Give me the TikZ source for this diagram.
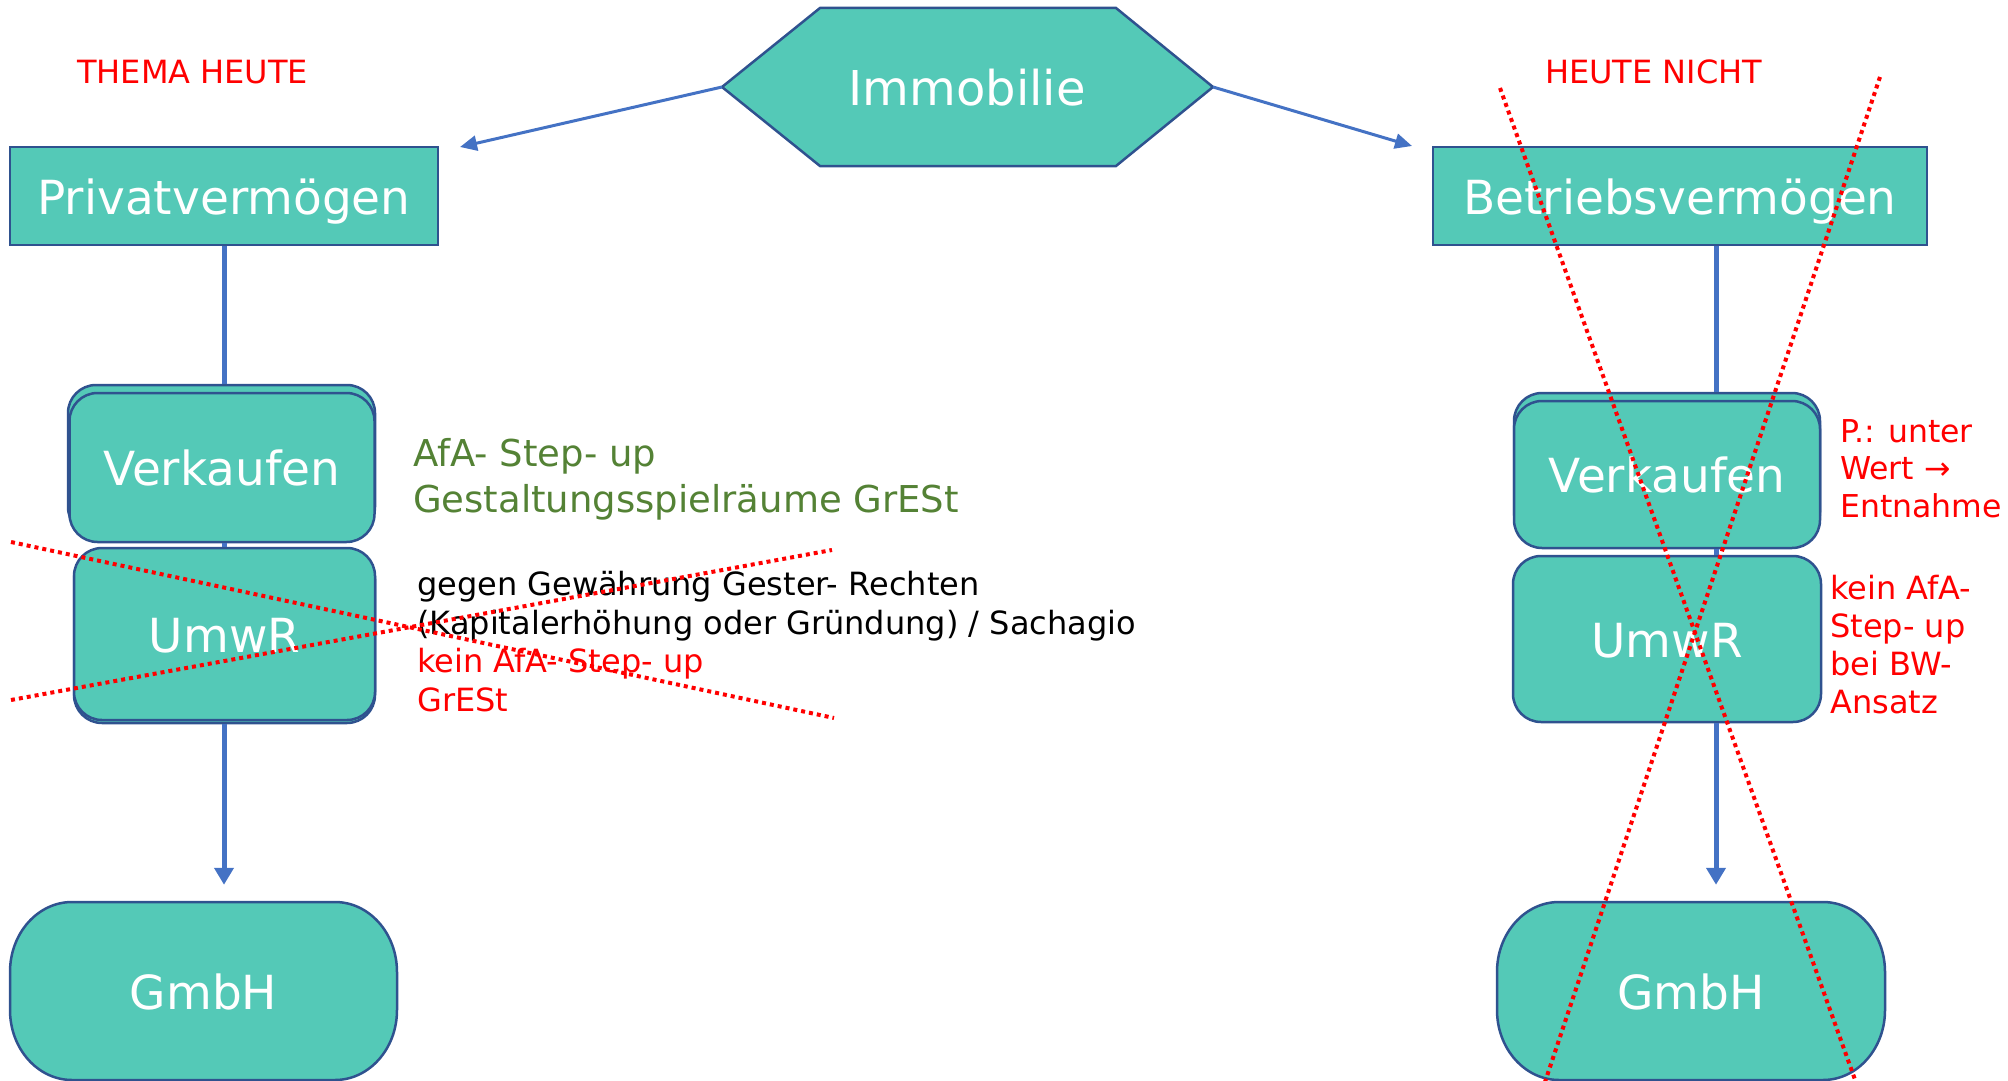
\documentclass[tikz,border=0pt]{standalone}
\usepackage{fontspec}
\setmainfont{DejaVu Sans}
\usetikzlibrary{arrows.meta}
\definecolor{boxfill}{HTML}{54C9B7}
\definecolor{boxborder}{HTML}{2F528F}
\definecolor{connblue}{HTML}{4472C4}
\definecolor{notegreen}{HTML}{548235}
\definecolor{notered}{HTML}{FF0000}
\tikzset{
  boxline/.style={draw=boxborder, line width=2.5pt, fill=boxfill},
  box/.style={boxline, inner sep=0pt, text=white, font=\fontsize{47}{56}\selectfont, text depth=0pt, text height=36pt},
  rbox/.style={box, rounded corners=28pt},
  backbox/.style={boxline, rounded corners=28pt, inner sep=0pt},
  conn/.style={draw=connblue, line width=5pt},
  diag/.style={draw=connblue, line width=3pt, -{Triangle[length=17pt,width=15pt]}},
  varrow/.style={conn, -{Triangle[length=17pt,width=19pt]}, shorten >=16pt},
  cross/.style={draw=notered, line width=4pt, dash pattern=on 4pt off 4pt},
  note/.style={inner sep=0pt, anchor=base west, align=left},
}
\newcommand\gmbhoutline[4]{%
  \draw[boxline] ({#1+62},#2) -- ({#3-62},#2)
    .. controls ({#3-62+34},#2) and (#3,{#2+70-39}) .. (#3,{#2+70})
    -- (#3,{#4-70})
    .. controls (#3,{#4-70+39}) and ({#3-62+34},#4) .. ({#3-62},#4)
    -- ({#1+62},#4)
    .. controls ({#1+62-34},#4) and (#1,{#4-70+39}) .. (#1,{#4-70})
    -- (#1,{#2+70})
    .. controls (#1,{#2+70-39}) and ({#1+62-34},#2) .. ({#1+62},#2) -- cycle;}
\begin{document}
\begin{tikzpicture}[x=1pt,y=-1pt]
\useasboundingbox (0,0) rectangle (2008,1081);

% ---------- top ----------
\coordinate (hL) at (722,87);
\coordinate (hR) at (1213,87);
\draw[boxline] (hL) -- (820,8) -- (1116,8) -- (hR) -- (1116,166) -- (820,166) -- cycle;
\node[text=white, font=\fontsize{48}{58}\selectfont, text depth=0pt, text height=36pt] (immo) at (967,87) {Immobilie};

\node[box, minimum width=428pt, minimum height=98pt] (privL) at (224,196) {Privatvermögen};
\node[box, minimum width=494pt, minimum height=98pt] (betr) at (1680,196) {Betriebsvermögen};

\coordinate (aL) at (460,147);
\coordinate (aR) at (1412,146);
\draw[diag] (hL) -- (aL);
\draw[diag] (hR) -- (aR);

\node[note, text=notered, font=\fontsize{32}{39}\selectfont] (thema) at (77,83) {THEMA HEUTE};
\node[note, text=notered, font=\fontsize{32}{39}\selectfont] (nicht) at (1545,84) {HEUTE NICHT};

% ---------- left column ----------
\node[backbox, minimum width=307pt, minimum height=150pt] (verkLb) at (221.5,460) {};
\node[rbox, minimum width=305pt, minimum height=149pt] (verkL) at (222,467.5) {Verkaufen};
\node[backbox, minimum width=301pt, minimum height=172pt] (umwrLb) at (224.5,637) {};
\node[rbox, minimum width=301pt, minimum height=172pt] (umwrL) at (224.5,634) {UmwR};
\node[box, draw=none, fill=none, minimum width=387pt, minimum height=178pt] (gmbhL) at (203.5,991) {};
\gmbhoutline{10}{902}{397}{1080}
\node[box, draw=none, fill=none] (gmbhLt) at (gmbhL.center) {GmbH};

\draw[conn] (privL.south) -- (privL.south |- verkLb.north);
\draw[conn] (privL.south |- verkL.south) -- (privL.south |- umwrL.north);
\draw[varrow] (privL.south |- umwrLb.south) -- (privL.south |- gmbhL.north);

\node[note, text=notegreen, font=\fontsize{37}{46}\selectfont] (green) at (413,512) {AfA- Step- up\\Gestaltungsspielräume GrESt};
\node[note, text=black, font=\fontsize{32}{38.5}\selectfont] (black) at (417,634) {gegen Gewährung Gester- Rechten\\(Kapitalerhöhung oder Gründung) / Sachagio};
\node[note, text=notered, font=\fontsize{32}{38.5}\selectfont] (redL) at (417,711) {kein AfA- Step- up\\GrESt};

% ---------- right column ----------
\node[backbox, minimum width=306pt, minimum height=147pt] (verkRb) at (1667,466.5) {};
\node[rbox, minimum width=306pt, minimum height=147pt] (verkR) at (1667,474.5) {Verkaufen};
\node[rbox, minimum width=308pt, minimum height=166pt] (umwrR) at (1667,639) {UmwR};
\node[box, draw=none, fill=none, minimum width=388pt, minimum height=178pt] (gmbhR) at (1691,991) {};
\gmbhoutline{1497}{902}{1885}{1080}
\node[box, draw=none, fill=none] (gmbhRt) at (gmbhR.center) {GmbH};

\coordinate (rline) at (1716,0);
\draw[conn] (rline |- betr.south) -- (rline |- verkRb.north);
\draw[conn] (rline |- verkR.south) -- (rline |- umwrR.north);
\draw[varrow] (rline |- umwrR.south) -- (rline |- gmbhR.north);

\node[note, text=notered, font=\fontsize{31.5}{37.5}\selectfont] (pnote) at (1840,517) {P.: unter\\Wert →\\Entnahme};
\node[note, text=notered, font=\fontsize{32}{38}\selectfont] (knote) at (1830,713) {kein AfA-\\Step- up\\bei BW-\\Ansatz};

% ---------- crossings ----------
\coordinate (xa1) at (11,542);  \coordinate (xa2) at (834,718);
\coordinate (xb1) at (11,700);  \coordinate (xb2) at (832,550);
\coordinate (xc1) at (1500,88); \coordinate (xc2) at (1858,1088);
\coordinate (xd1) at (1880,77); \coordinate (xd2) at (1543,1088);
\draw[cross] (xa1) -- (xa2);
\draw[cross] (xb1) -- (xb2);
\draw[cross] (xc1) -- (xc2);
\draw[cross] (xd1) -- (xd2);
\end{tikzpicture}
\end{document}
